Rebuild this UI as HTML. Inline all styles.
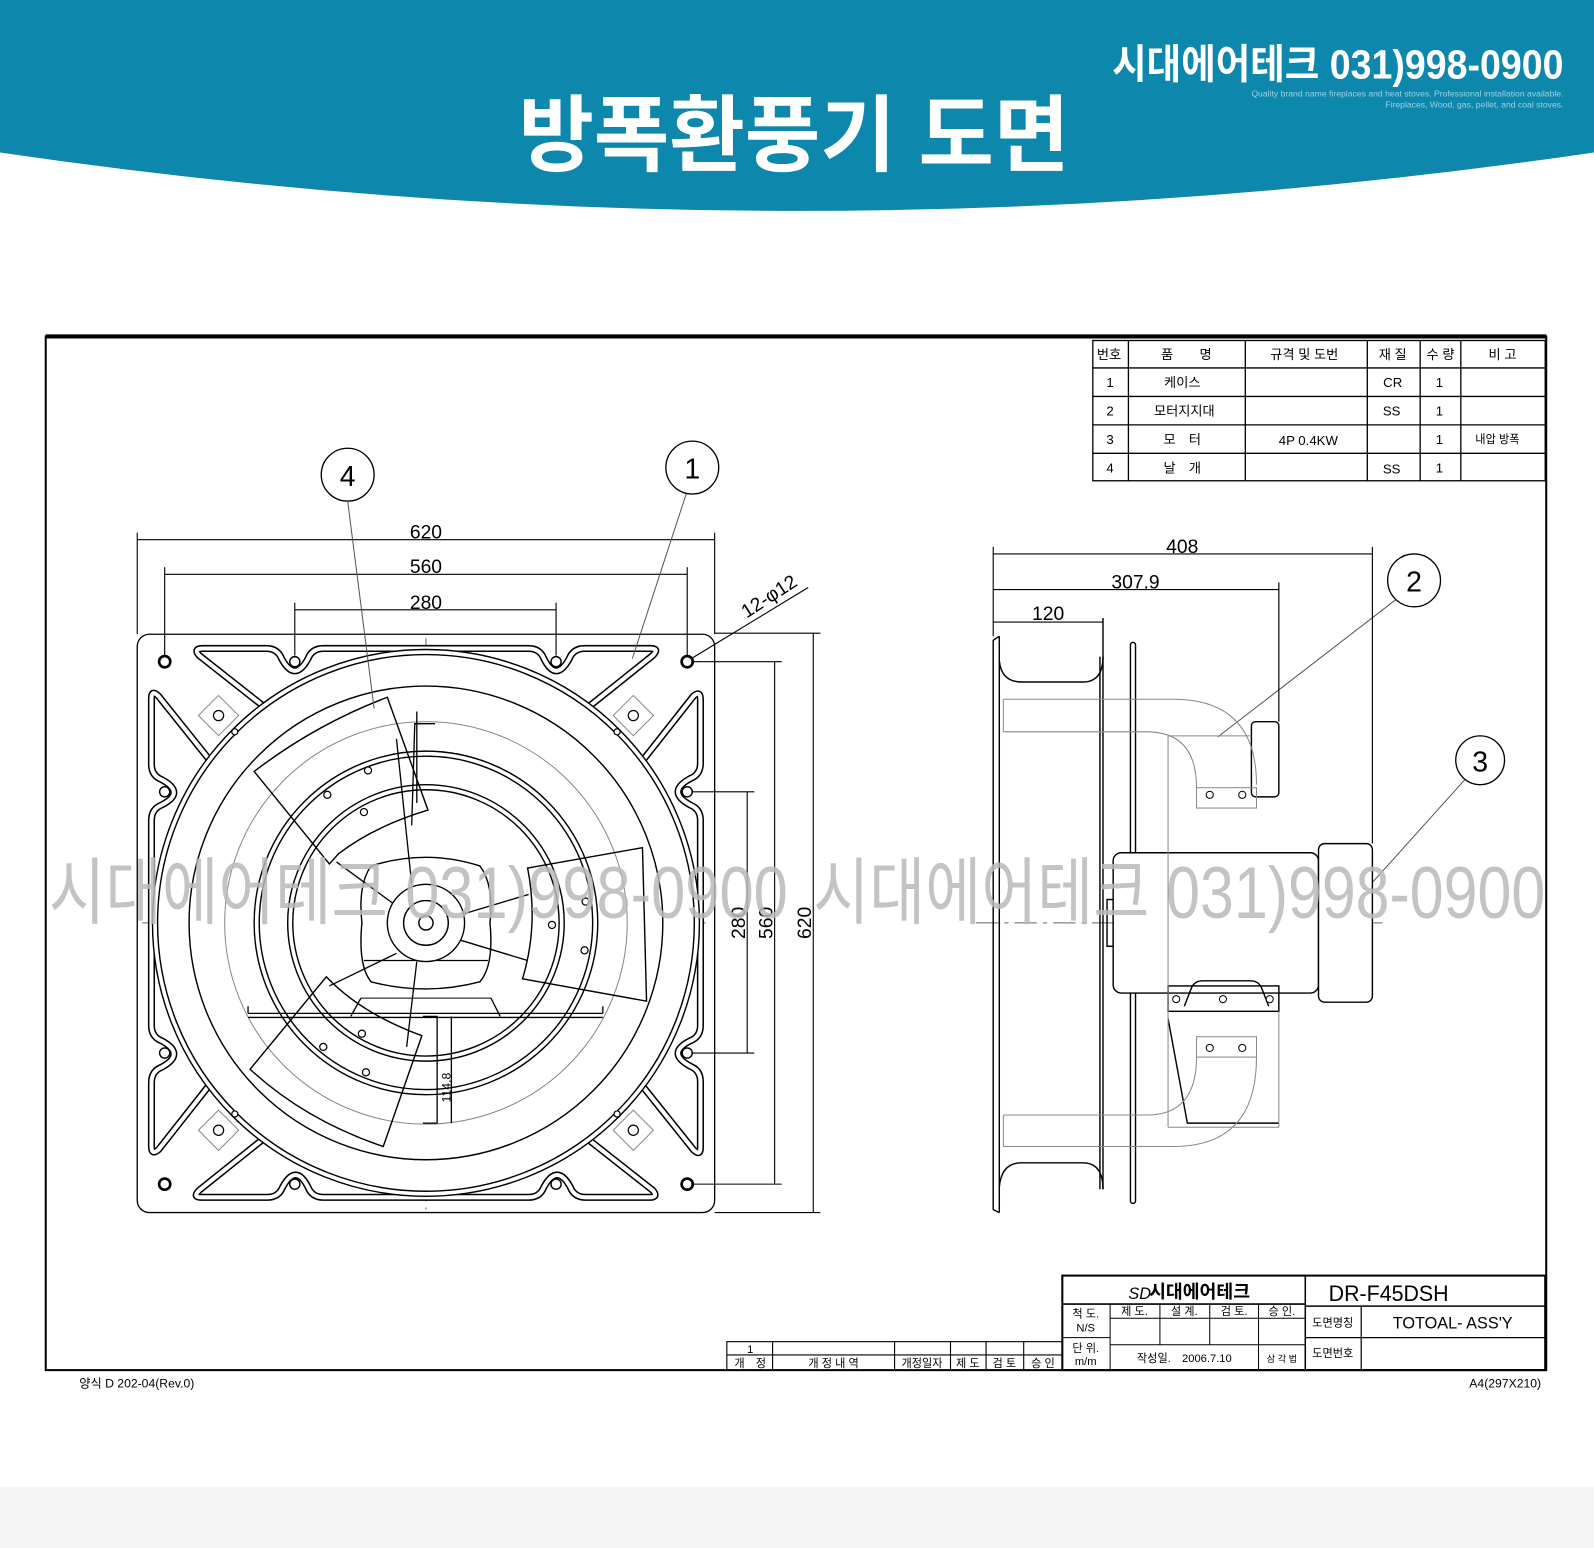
<!DOCTYPE html>
<html><head><meta charset="utf-8"><style>
html,body{margin:0;padding:0;background:#fff;}
svg{display:block;}
text{font-family:"Liberation Sans","Noto Sans CJK KR",sans-serif;}
</style></head><body>
<svg width="1594" height="1548" viewBox="0 0 1568 1523" preserveAspectRatio="none" xmlns="http://www.w3.org/2000/svg">
<rect x="0" y="0" width="1568" height="1523" fill="#fff"/>
<rect x="0" y="1463" width="1568" height="60" fill="#f5f5f5"/>
<!-- header -->
<path d="M0 0 H1568 V150 Q784 265 0 150 Z" fill="#0d87ab"/>
<text x="781" y="162" text-anchor="middle" font-size="82" font-weight="bold" fill="#fff" textLength="542" lengthAdjust="spacingAndGlyphs">방폭환풍기 도면</text>
<text x="1538" y="77" text-anchor="end" font-size="40" font-weight="bold" fill="#fff" textLength="444" lengthAdjust="spacingAndGlyphs">시대에어테크 031)998-0900</text>
<text x="1538" y="95" text-anchor="end" font-size="8.5" fill="#9fd0e2">Quality brand name fireplaces and heat stoves. Professional installation available.</text>
<text x="1538" y="106" text-anchor="end" font-size="8.5" fill="#9fd0e2">Fireplaces, Wood, gas, pellet, and coal stoves.</text>

<!-- frame -->
<rect x="45" y="331" width="1476" height="1017" fill="none" stroke="#000" stroke-width="2"/>
<line x1="45" y1="331" x2="1521" y2="331" stroke="#000" stroke-width="4"/>

<!-- parts table -->
<g stroke="#000" stroke-width="1.3" fill="none">
<rect x="1075" y="335" width="445" height="138"/>
<line x1="1075" y1="362" x2="1520" y2="362"/><line x1="1075" y1="390" x2="1520" y2="390"/>
<line x1="1075" y1="418" x2="1520" y2="418"/><line x1="1075" y1="446" x2="1520" y2="446"/>
<line x1="1110" y1="335" x2="1110" y2="473"/><line x1="1225" y1="335" x2="1225" y2="473"/>
<line x1="1345" y1="335" x2="1345" y2="473"/><line x1="1397" y1="335" x2="1397" y2="473"/>
<line x1="1437" y1="335" x2="1437" y2="473"/>
</g>
<g font-size="13" fill="#000" text-anchor="middle">
<text x="1091" y="353">번호</text><text x="1167" y="353">품　　명</text><text x="1283" y="353">규격 및 도번</text><text x="1370" y="353">재 질</text><text x="1417" y="353">수 량</text><text x="1478" y="353">비 고</text>
<text x="1092" y="381">1</text><text x="1163" y="381">케이스</text><text x="1370" y="381">CR</text><text x="1416" y="381">1</text>
<text x="1092" y="409">2</text><text x="1165" y="409">모터지지대</text><text x="1369" y="409">SS</text><text x="1416" y="409">1</text>
<text x="1092" y="437">3</text><text x="1163" y="437">모　터</text><text x="1287" y="438">4P 0.4KW</text><text x="1416" y="437">1</text><text x="1473" y="436" font-size="11">내압 방폭</text>
<text x="1092" y="465">4</text><text x="1163" y="465">날　개</text><text x="1369" y="466">SS</text><text x="1416" y="465">1</text>
</g>

<!-- FRONT VIEW -->
<g fill="none" stroke="#000" stroke-width="1.3">
<rect x="135" y="624" width="568" height="569" rx="12"/>
</g>
<g stroke="#666" stroke-width="1" stroke-dasharray="22 6 4 6" fill="none">
<line x1="140" y1="908" x2="700" y2="908"/><line x1="419" y1="628" x2="419" y2="1190"/>
<line x1="960" y1="908" x2="1360" y2="908"/>
</g>
<defs>
<path id="rib" d="M262,697 L196,645 Q190,638 199,638 L262,638 Q273,638 277,648 Q290,672 303,648 Q307,638 318,638 L520,638 Q531,638 535,648 Q547,672 560,648 Q564,638 575,638 L640,638 Q649,638 642,645 L577,697"/>
</defs>
<g fill="none">
<g stroke="#000" stroke-width="7">
<use href="#rib"/><use href="#rib" transform="rotate(90 419 908)"/><use href="#rib" transform="rotate(180 419 908)"/><use href="#rib" transform="rotate(270 419 908)"/>
</g>
<g stroke="#fff" stroke-width="4">
<use href="#rib"/><use href="#rib" transform="rotate(90 419 908)"/><use href="#rib" transform="rotate(180 419 908)"/><use href="#rib" transform="rotate(270 419 908)"/>
</g>
</g>
<g fill="none" stroke="#888" stroke-width="1">
<rect x="201" y="690" width="28" height="28" transform="rotate(45 215 704)"/>
<rect x="609" y="690" width="28" height="28" transform="rotate(45 623 704)"/>
<rect x="201" y="1098" width="28" height="28" transform="rotate(45 215 1112)"/>
<rect x="609" y="1098" width="28" height="28" transform="rotate(45 623 1112)"/>
<line x1="230" y1="728" x2="280" y2="778"/><line x1="608" y1="728" x2="558" y2="778"/>
<line x1="230" y1="1088" x2="280" y2="1038"/><line x1="608" y1="1088" x2="558" y2="1038"/>
</g>
<g fill="#fff" stroke="#000" stroke-width="1.4">
<circle cx="419" cy="908" r="269"/>
</g>
<g fill="none" stroke="#000" stroke-width="1.4">
<circle cx="419" cy="908" r="264"/>
<circle cx="419" cy="908" r="233"/>
<circle cx="419" cy="908" r="198" stroke="#888" stroke-width="1"/>
<circle cx="419" cy="908" r="169"/>
<circle cx="419" cy="908" r="164"/>
<circle cx="419" cy="908" r="136"/>
<circle cx="419" cy="908" r="131"/>
</g>
<g fill="none" stroke="#000" stroke-width="1.4">
<path d="M250,759 Q310,713 381,686 L421,797 Q368,813 333,840 L324,850 Z"/>
<path d="M519,854 L632,834 L636,985 L514,963 Q530,910 519,854 Z"/>
<path d="M321,961 Q355,997 415,1019 L377,1128 Q300,1102 246,1052 Z"/>
</g>
<path d="M365,852 Q419,835 472,852 Q486,870 482,908 Q486,950 472,966 Q419,980 365,966 Q352,950 356,908 Q352,870 365,852 Z" fill="#fff" stroke="#000" stroke-width="1.4"/>
<g fill="none" stroke="#000" stroke-width="1.3">
<line x1="358" y1="945" x2="480" y2="945"/>
<line x1="405" y1="870" x2="390" y2="727"/><line x1="395" y1="895" x2="331" y2="848"/>
<line x1="453" y1="900" x2="520" y2="880"/><line x1="453" y1="925" x2="519" y2="945"/>
<line x1="390" y1="938" x2="324" y2="970"/><line x1="410" y1="946" x2="400" y2="1030"/>
<polyline points="405,812 408,712 428,712"/><line x1="410" y1="790" x2="410" y2="700"/>
<line x1="244" y1="997" x2="593" y2="997"/><line x1="244" y1="1001" x2="593" y2="1001"/>
<line x1="244" y1="990" x2="244" y2="997"/><line x1="593" y1="990" x2="593" y2="997"/>
<polyline points="416,1000 430,1000 430,1105 416,1105"/><line x1="444" y1="1000" x2="444" y2="1105"/>
<line x1="355" y1="982" x2="345" y2="1000"/><line x1="483" y1="982" x2="492" y2="1000"/>
<line x1="355" y1="982" x2="483" y2="982" stroke-width="1"/>
</g>
<text transform="translate(443,1070) rotate(-90)" font-size="12" text-anchor="middle">114.8</text>
<circle cx="419" cy="908" r="38" fill="#fff" stroke="#000" stroke-width="1.4"/>
<circle cx="419" cy="908" r="22" fill="none" stroke="#000" stroke-width="1.4"/>
<circle cx="419" cy="908" r="7" fill="none" stroke="#000" stroke-width="1.4"/>
<g fill="#fff" stroke="#000" stroke-width="1.2">
<circle cx="362" cy="758" r="3.5"/><circle cx="322" cy="782" r="3.5"/><circle cx="358" cy="799" r="3.5"/>
<circle cx="576" cy="887" r="3.5"/><circle cx="543" cy="910" r="3.5"/><circle cx="575" cy="935" r="3.5"/>
<circle cx="356" cy="1017" r="3.5"/><circle cx="318" cy="1030" r="3.5"/><circle cx="360" cy="1055" r="3.5"/>
<circle cx="231" cy="720" r="3"/><circle cx="607" cy="720" r="3"/><circle cx="231" cy="1096" r="3"/><circle cx="607" cy="1096" r="3"/>
<circle cx="215" cy="704" r="5"/><circle cx="623" cy="704" r="5"/><circle cx="215" cy="1112" r="5"/><circle cx="623" cy="1112" r="5"/>
</g>
<g fill="#fff" stroke="#000">
<circle cx="162" cy="651" r="5.5" stroke-width="2.6"/><circle cx="676" cy="651" r="5.5" stroke-width="2.6"/>
<circle cx="162" cy="1165" r="5.5" stroke-width="2.6"/><circle cx="676" cy="1165" r="5.5" stroke-width="2.6"/>
<g stroke-width="1.4">
<circle cx="290" cy="651" r="5"/><circle cx="547" cy="651" r="5"/><circle cx="290" cy="1165" r="5"/><circle cx="547" cy="1165" r="5"/>
<circle cx="162" cy="779" r="5"/><circle cx="162" cy="1036" r="5"/><circle cx="676" cy="779" r="5"/><circle cx="676" cy="1036" r="5"/>
</g></g>
<g stroke="#000" stroke-width="1.1" fill="none">
<line x1="135" y1="531" x2="703" y2="531"/><line x1="135" y1="524" x2="135" y2="624"/><line x1="703" y1="524" x2="703" y2="624"/>
<line x1="162" y1="565" x2="676" y2="565"/><line x1="162" y1="558" x2="162" y2="645"/><line x1="676" y1="558" x2="676" y2="645"/>
<line x1="290" y1="600" x2="547" y2="600"/><line x1="290" y1="593" x2="290" y2="645"/><line x1="547" y1="593" x2="547" y2="645"/>
<line x1="735" y1="779" x2="735" y2="1036"/><line x1="680" y1="779" x2="742" y2="779"/><line x1="680" y1="1036" x2="742" y2="1036"/>
<line x1="762" y1="651" x2="762" y2="1165"/><line x1="680" y1="651" x2="769" y2="651"/><line x1="680" y1="1165" x2="769" y2="1165"/>
<line x1="800" y1="623" x2="800" y2="1193"/><line x1="703" y1="623" x2="807" y2="623"/><line x1="703" y1="1193" x2="807" y2="1193"/>
<line x1="680" y1="648" x2="795" y2="578"/>
</g>
<g font-size="19" text-anchor="middle" fill="#000">
<text x="419" y="530">620</text><text x="419" y="564">560</text><text x="419" y="599">280</text>
<text transform="translate(733,908) rotate(-90)">280</text>
<text transform="translate(760,908) rotate(-90)">560</text>
<text transform="translate(798,908) rotate(-90)">620</text>
<text transform="translate(760,592) rotate(-33)">12-φ12</text>
</g>
<g fill="#fff" stroke="#000" stroke-width="1.3">
<circle cx="342" cy="467" r="26"/><circle cx="681" cy="460" r="26"/><circle cx="1391" cy="571" r="26"/><circle cx="1456" cy="748" r="24"/>
</g>
<g stroke="#555" stroke-width="1" fill="none">
<line x1="342" y1="493" x2="368" y2="697"/><line x1="675" y1="486" x2="622" y2="648"/>
<line x1="1373" y1="590" x2="1198" y2="725"/><line x1="1441" y1="767" x2="1334" y2="886"/>
</g>
<g font-size="28" text-anchor="middle" fill="#000">
<text x="342" y="478">4</text><text x="681" y="471">1</text><text x="1391" y="582">2</text><text x="1456" y="759">3</text>
</g>

<!-- SIDE VIEW -->
<g fill="none" stroke="#000" stroke-width="1.4">
<polyline points="983,626 977,630 977,1190 983,1193"/>
<line x1="983" y1="626" x2="983" y2="1193"/>
<path d="M983,650 Q985,671 1005,671 L1065,671 Q1085,671 1085,646"/>
<path d="M983,1168 Q985,1144 1005,1144 L1065,1144 Q1085,1144 1085,1170"/>
<line x1="1085" y1="608" x2="1085" y2="1170"/><line x1="1082" y1="646" x2="1082" y2="1170"/>
<rect x="1112" y="632" width="5" height="552" rx="2.5"/>
<rect x="1089" y="885" width="6" height="46"/>
<rect x="1095" y="839" width="202" height="138" rx="8" fill="#fff"/>
<rect x="1297" y="830" width="53" height="156" rx="6" fill="#fff"/>
<rect x="1231" y="710" width="27" height="74" rx="4"/>
<rect x="1149" y="970" width="109" height="25"/>
<path d="M1165,990 L1172,972 Q1175,965 1183,965 L1230,965 Q1238,965 1241,972 L1248,990"/>
<polyline points="1149,1002 1168,1105 1258,1105"/>
</g>
<g fill="none" stroke="#888" stroke-width="1">
<line x1="987" y1="688" x2="1154" y2="688"/><line x1="987" y1="720" x2="1128" y2="720"/>
<line x1="987" y1="688" x2="987" y2="720"/>
<path d="M1154,688 Q1236,688 1236,772"/><path d="M1128,720 Q1177,720 1177,775"/>
<rect x="1177" y="775" width="59" height="20"/>
<line x1="1149" y1="724" x2="1149" y2="1109"/><line x1="1258" y1="575" x2="1258" y2="710"/>
<line x1="1149" y1="724" x2="1231" y2="724"/>
<rect x="1177" y="1020" width="59" height="20"/>
<path d="M1177,1040 Q1177,1097 1128,1097 L987,1097"/><path d="M1236,1040 Q1236,1128 1154,1128 L987,1128"/>
<line x1="987" y1="1097" x2="987" y2="1128"/>
<line x1="1258" y1="995" x2="1258" y2="1109"/><line x1="1149" y1="1109" x2="1258" y2="1109"/>
</g>
<g fill="#fff" stroke="#000" stroke-width="1">
<circle cx="1190" cy="782" r="3.5"/><circle cx="1222" cy="782" r="3.5"/>
<circle cx="1190" cy="1031" r="3.5"/><circle cx="1222" cy="1031" r="3.5"/>
<circle cx="1157" cy="983" r="3.5"/><circle cx="1203" cy="983" r="3.5"/><circle cx="1249" cy="983" r="3.5"/>
</g>
<g stroke="#000" stroke-width="1.1" fill="none">
<line x1="977" y1="545" x2="1350" y2="545"/><line x1="977" y1="538" x2="977" y2="626"/><line x1="1350" y1="538" x2="1350" y2="830"/>
<line x1="977" y1="580" x2="1258" y2="580"/><line x1="1258" y1="573" x2="1258" y2="710"/>
<line x1="977" y1="612" x2="1085" y2="612"/>
</g>
<g font-size="19" text-anchor="middle" fill="#000">
<text x="1163" y="544">408</text><text x="1117" y="579">307.9</text><text x="1031" y="610">120</text>
</g>

<!-- watermark -->
<g font-size="72" fill="#b8b8b8" fill-opacity="0.85">
<text x="48" y="903" textLength="727" lengthAdjust="spacingAndGlyphs">시대에어테크 031)998-0900</text>
<text x="800" y="903" textLength="720" lengthAdjust="spacingAndGlyphs">시대에어테크 031)998-0900</text>
</g>

<!-- revision table -->
<g stroke="#000" stroke-width="1.1" fill="none">
<rect x="715" y="1320" width="330" height="28"/>
<line x1="715" y1="1333" x2="1045" y2="1333"/>
<line x1="760" y1="1320" x2="760" y2="1348"/><line x1="880" y1="1320" x2="880" y2="1348"/>
<line x1="935" y1="1320" x2="935" y2="1348"/><line x1="970" y1="1320" x2="970" y2="1348"/>
<line x1="1007" y1="1320" x2="1007" y2="1348"/>
</g>
<g font-size="11" text-anchor="middle" fill="#000">
<text x="738" y="1331">1</text>
<text x="738" y="1345">개　정</text><text x="820" y="1345">개 정 내 역</text><text x="907" y="1345">개정일자</text>
<text x="952" y="1345">제 도</text><text x="988" y="1345">검 토</text><text x="1026" y="1345">승 인</text>
</g>
<g stroke="#000" fill="none">
<rect x="1045" y="1255" width="475" height="93" stroke-width="2"/>
<line x1="1284" y1="1255" x2="1284" y2="1348" stroke-width="1.5"/>
<line x1="1045" y1="1283" x2="1284" y2="1283" stroke-width="1.5"/>
<line x1="1284" y1="1285" x2="1520" y2="1285" stroke-width="1.5"/>
<line x1="1284" y1="1316" x2="1520" y2="1316" stroke-width="1.2"/>
<line x1="1339" y1="1285" x2="1339" y2="1348" stroke-width="1.2"/>
<line x1="1092" y1="1297" x2="1284" y2="1297" stroke-width="1"/>
<line x1="1045" y1="1316" x2="1092" y2="1316" stroke-width="1"/>
<line x1="1092" y1="1323" x2="1284" y2="1323" stroke-width="1"/>
<line x1="1092" y1="1283" x2="1092" y2="1348" stroke-width="1"/>
<line x1="1141" y1="1283" x2="1141" y2="1323" stroke-width="1"/>
<line x1="1190" y1="1283" x2="1190" y2="1323" stroke-width="1"/>
<line x1="1238" y1="1283" x2="1238" y2="1348" stroke-width="1"/>
</g>
<text x="1110" y="1278" font-size="16" font-style="italic" font-family="Liberation Serif, serif">SD</text>
<text x="1180" y="1277" font-size="18" font-weight="bold" text-anchor="middle">시대에어테크</text>
<text x="1366" y="1280" font-size="22" text-anchor="middle" textLength="118" lengthAdjust="spacingAndGlyphs">DR-F45DSH</text>
<text x="1429" y="1307" font-size="16" text-anchor="middle">TOTOAL- ASS'Y</text>
<g font-size="11" text-anchor="middle" fill="#000">
<text x="1068" y="1296">척 도.</text><text x="1068" y="1310">N/S</text>
<text x="1068" y="1330">단 위.</text><text x="1068" y="1343">m/m</text>
<text x="1116" y="1294">제 도.</text><text x="1165" y="1294">설 계.</text><text x="1214" y="1294">검 토.</text><text x="1261" y="1294">승 인.</text>
<text x="1165" y="1340">작성일.　2006.7.10</text><text x="1261" y="1340" font-size="9">삼 각 법</text>
<text x="1311" y="1305">도면명칭</text><text x="1311" y="1335">도면번호</text>
</g>
<text x="78" y="1365" font-size="12">양식 D 202-04(Rev.0)</text>
<text x="1516" y="1365" font-size="12" text-anchor="end">A4(297X210)</text>
</svg>
</body></html>
